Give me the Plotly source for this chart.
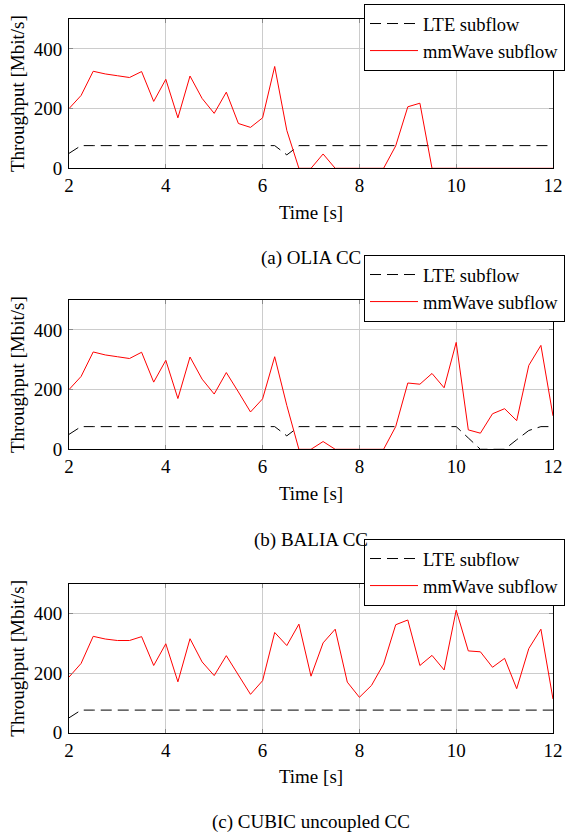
import plotly.graph_objects as go

time_s = [2.0, 2.25, 2.5, 2.75, 3.0, 3.25, 3.5, 3.75, 4.0, 4.25, 4.5, 4.75,
          5.0, 5.25, 5.5, 5.75, 6.0, 6.25, 6.5, 6.75, 7.0, 7.25, 7.5, 7.75,
          8.0, 8.25, 8.5, 8.75, 9.0, 9.25, 9.5, 9.75, 10.0, 10.25, 10.5, 10.75,
          11.0, 11.25, 11.5, 11.75, 12.0]

olia_mmwave = [200, 244, 325, 316, 310, 304, 324, 224, 298, 169, 309, 234,
               184, 255, 150, 137, 169, 341, 127, 0, 0, 48, 0, 0,
               0, 0, 0, 75, 206, 218, 0, 0, 0, 0, 0, 0,
               0, 0, 0, 0, 0]
olia_lte = [50, 76, 76, 76, 76, 76, 76, 76, 76, 76, 76, 76,
            76, 76, 76, 76, 76, 76, 45, 76, 76, 76, 76, 76,
            76, 76, 76, 76, 76, 76, 76, 76, 76, 76, 76, 76,
            76, 76, 76, 76, 76]

balia_mmwave = [200, 244, 326, 316, 310, 304, 325, 225, 298, 170, 309, 235,
                185, 257, 192, 125, 169, 310, 147, 0, 0, 26, 0, 0,
                0, 0, 0, 76, 222, 218, 254, 206, 358, 65, 54, 119,
                136, 96, 281, 348, 112]
balia_lte = [50, 76, 76, 76, 76, 76, 76, 76, 76, 76, 76, 76,
             76, 76, 76, 76, 76, 76, 45, 76, 76, 76, 76, 76,
             76, 76, 76, 76, 76, 76, 76, 76, 76, 38, 0, 0,
             0, 32, 63, 76, 76]

cubic_mmwave = [187, 233, 324, 315, 310, 310, 323, 226, 299, 171, 316, 238,
                192, 259, 194, 129, 175, 337, 293, 365, 190, 302, 348, 170,
                119, 159, 231, 363, 379, 226, 260, 211, 412, 275, 272, 220,
                250, 148, 283, 348, 113]
cubic_lte = [50, 76, 76, 76, 76, 76, 76, 76, 76, 76, 76, 76,
             76, 76, 76, 76, 76, 76, 76, 76, 76, 76, 76, 76,
             76, 76, 76, 76, 76, 76, 76, 76, 76, 76, 76, 76,
             76, 76, 76, 76, 76]

x_ticks = [2, 4, 6, 8, 10, 12]
y_ticks = [0, 200, 400]
captions = ["(a) OLIA CC", "(b) BALIA CC", "(c) CUBIC uncoupled CC"]
series_names = ["LTE subflow", "mmWave subflow"]

panels = [(olia_lte, olia_mmwave), (balia_lte, balia_mmwave), (cubic_lte, cubic_mmwave)]

W, H = 570, 834
FONT = "Liberation Serif, Times New Roman, serif"
FS = 19
LFS = 18.5

# pixel layout of the three plot areas (top, bottom)
px_left, px_right = 69, 553
rows = [(19, 168.3), (300, 449.3), (584, 732.7)]
legend_tops = [4, 255, 539]
caption_y = [258, 540, 822]

fig = go.Figure()
layout = dict(
    width=W, height=H,
    margin=dict(l=0, r=0, t=0, b=0, autoexpand=False),
    paper_bgcolor="white", plot_bgcolor="white",
    font=dict(family=FONT, size=FS, color="black"),
    showlegend=True,
    annotations=[],
)

for i, (lte, mmw) in enumerate(panels):
    k = "" if i == 0 else str(i + 1)
    leg = "legend" + k
    fig.add_trace(go.Scatter(x=time_s, y=lte, mode="lines", name=series_names[0],
                             line=dict(color="black", width=1, dash="11px,6px"),
                             xaxis="x" + k, yaxis="y" + k, legend=leg))
    fig.add_trace(go.Scatter(x=time_s, y=mmw, mode="lines", name=series_names[1],
                             line=dict(color="#ff0000", width=1),
                             xaxis="x" + k, yaxis="y" + k, legend=leg))
    top, bot = rows[i]
    xd = [px_left / W, px_right / W]
    yd = [(H - bot) / H, (H - top) / H]
    axis_common = dict(showline=True, linecolor="black", linewidth=1, mirror="allticks",
                       ticks="inside", ticklen=4, tickcolor="#8a8a8a",
                       showgrid=True, gridcolor="#cccccc", gridwidth=1,
                       zeroline=False, automargin=False,
                       tickfont=dict(family=FONT, size=FS))
    layout["xaxis" + k] = dict(domain=xd, range=[2, 12], tickvals=x_ticks,
                               anchor="y" + k,
                               title=dict(text="Time [s]", standoff=10,
                                          font=dict(family=FONT, size=FS)),
                               **axis_common)
    layout["yaxis" + k] = dict(domain=yd, range=[0, 500], tickvals=y_ticks,
                               anchor="x" + k, ticklabelstandoff=2,
                               title=dict(text="Throughput [Mbit/s]", standoff=4,
                                          font=dict(family=FONT, size=FS)),
                               **axis_common)
    layout[leg] = dict(x=364 / W, y=(H - legend_tops[i]) / H, xanchor="left", yanchor="top",
                       bgcolor="white", bordercolor="black", borderwidth=1,
                       font=dict(family=FONT, size=LFS), itemwidth=48,
                       entrywidth=142, entrywidthmode="pixels",
                       tracegroupgap=0)
    layout["annotations"].append(dict(text=captions[i], xref="paper", yref="paper",
                                      x=311 / W, y=(H - caption_y[i]) / H,
                                      xanchor="center", yanchor="middle", showarrow=False,
                                      font=dict(family=FONT, size=FS)))

fig.update_layout(**layout)
fig.write_html("out.html", config={"displayModeBar": False},
               post_script="document.body.style.margin='0';document.body.style.overflow='hidden';")
